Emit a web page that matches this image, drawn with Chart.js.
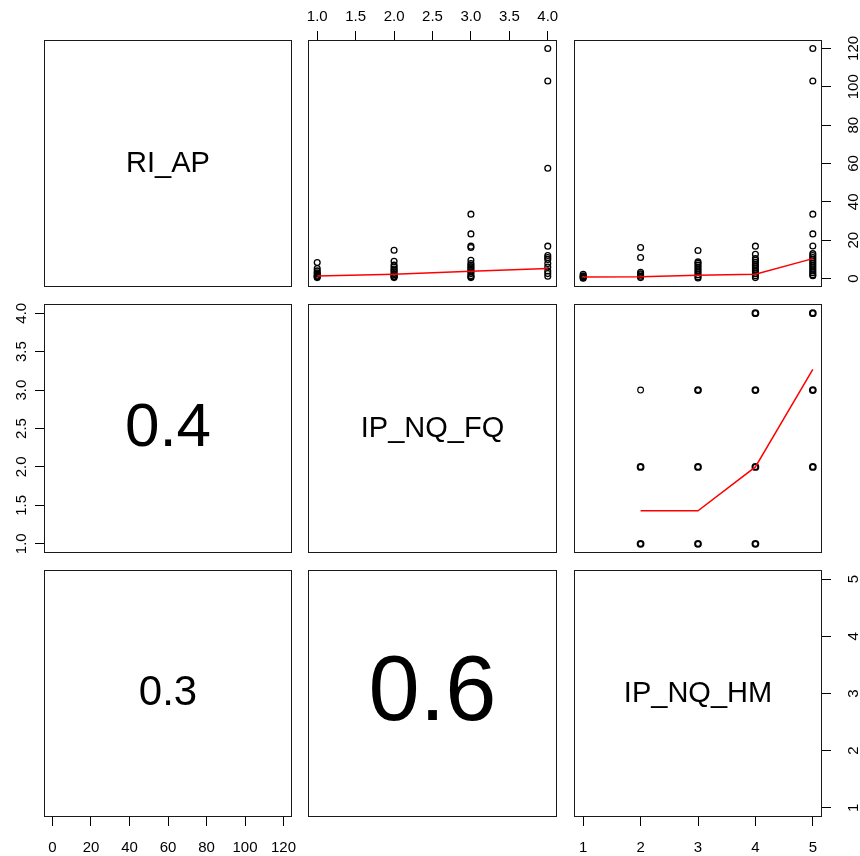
<!DOCTYPE html>
<html><head><meta charset="utf-8">
<script src="https://cdn.jsdelivr.net/npm/chart.js@4"></script>
<style>html,body{margin:0;padding:0;background:#fff}#wrap{position:relative;width:860px;height:856px;background:#fff}canvas{position:absolute;left:0;top:0}</style>
</head><body><div id="wrap"></div>
<script>
// ---------- data ----------
const VAR_NAMES = ['RI_AP', 'IP_NQ_FQ', 'IP_NQ_HM'];
const CORR_LABELS = ['0.4', '0.3', '0.6'];      // panels (FQ,RI), (HM,RI), (HM,FQ)
const CORR_FONT_PX = [62, 42, 92];

const RI_AP_TICKS = [0, 20, 40, 60, 80, 100, 120];
const RI_AP_TICK_LABELS = ['0', '20', '40', '60', '80', '100', '120'];
const FQ_TICKS = [1.0, 1.5, 2.0, 2.5, 3.0, 3.5, 4.0];
const FQ_TICK_LABELS = ['1.0', '1.5', '2.0', '2.5', '3.0', '3.5', '4.0'];
const HM_TICKS = [1, 2, 3, 4, 5];
const HM_TICK_LABELS = ['1', '2', '3', '4', '5'];

// RI_AP values grouped by IP_NQ_FQ level (panel row 1, col 2)
const FQ_LEVELS = [1, 2, 3, 4];
const RI_AT_FQ1 = [8.4, 5.2, 4, 3, 2.5, 1.7, 1.2, 0.9, 0.5];
const RI_AT_FQ2 = [14.8, 9, 7, 6, 5, 4.3, 3.5, 2.6, 2, 1.2, 0.9, 0.5];
const RI_AT_FQ3 = [33.6, 23.3, 16.9, 16.2, 9.5, 7.8, 7, 6, 5.2, 4.3, 3.5, 2.6, 1.5, 0.9, 0.5];
const RI_AT_FQ4 = [120, 103, 57.5, 16.9, 12, 11, 10, 7.8, 6, 4, 2.6, 1.2];
const LOWESS_RI_FQ = [1.4, 2.2, 3.8, 5.2];

// RI_AP values grouped by IP_NQ_HM level (panel row 1, col 3)
const HM_LEVELS = [1, 2, 3, 4, 5];
const RI_AT_HM1 = [2.2, 1.5, 1, 0.5, 0.2];
const RI_AT_HM2 = [16.2, 11, 3.3, 2.5, 2, 1.2, 0.5];
const RI_AT_HM3 = [14.6, 8.7, 8, 7, 6, 5, 4, 3, 2, 1, 0.3];
const RI_AT_HM4 = [16.9, 12.7, 10.5, 9.5, 8.5, 7.5, 6.5, 5.5, 4.5, 3.5, 2.5, 1.5, 0.5];
const RI_AT_HM5 = [120, 103, 33.6, 23.3, 17, 13, 12, 11, 10, 9, 8, 7, 6, 5, 4, 3, 2, 1.5];
const LOWESS_RI_HM = [0.8, 0.9, 1.7, 2.2, 10.4];

// IP_NQ_FQ vs IP_NQ_HM (panel row 2, col 3)
const GRID_HM = [2, 2, 2, 3, 3, 3, 4, 4, 4, 4, 5, 5, 5];
const GRID_FQ = [1, 2, 3, 1, 2, 3, 1, 2, 3, 4, 2, 3, 4];
const GRID_COUNT = [3, 4, 1, 5, 5, 4, 3, 6, 5, 2, 3, 5, 4];
const LOWESS_HM_X = [2, 3, 4, 5];
const LOWESS_FQ_Y = [1.43, 1.43, 2.0, 3.27];

// ---------- layout ----------
const W = 860, H = 856;
const COL_LEFT = [44, 308, 574], COL_RIGHT = [292, 557, 822];
const ROW_TOP = [40, 304, 570], ROW_BOTTOM = [287, 553, 817];
const RANGES = [[-4.4, 124.4], [0.88, 4.12], [0.84, 5.16]];
const TICKS = [RI_AP_TICKS, FQ_TICKS, HM_TICKS];
const TICK_LABELS = [RI_AP_TICK_LABELS, FQ_TICK_LABELS, HM_TICK_LABELS];
const FONT = '"Liberation Sans", Arial, Helvetica, sans-serif';
const wrap = document.getElementById('wrap');

function pts(levels, groups) {
  const out = [];
  levels.forEach((lv, i) => groups[i].forEach(v => out.push({x: lv, y: v})));
  return out;
}
function pairs(xs, ys) { return xs.map((x, i) => ({x: x, y: ys[i]})); }

function pointSet(data, widths) {
  return {type: 'scatter', data: data, showLine: false, pointStyle: 'circle', pointRadius: 2.9,
    pointBorderColor: '#000', pointBackgroundColor: 'rgba(0,0,0,0)',
    pointBorderWidth: widths ? (ctx => widths[ctx.dataIndex]) : 1.3, pointHoverRadius: 2.9};
}
function lineSet(data) {
  return {type: 'line', data: data, showLine: true, borderColor: '#ff0000', borderWidth: 1.5,
    pointRadius: 0, fill: false, tension: 0};
}

function makePanel(r, c, datasets, text, textPx) {
  const canvas = document.createElement('canvas');
  canvas.width = W; canvas.height = H;
  wrap.appendChild(canvas);
  const L = COL_LEFT[c], R = COL_RIGHT[c], T = ROW_TOP[r], B = ROW_BOTTOM[r];
  let xPos = null, yPos = null;
  if (r === 0 && c === 1) xPos = 'top';
  if (r === 2 && (c === 0 || c === 2)) xPos = 'bottom';
  if (c === 2 && (r === 0 || r === 2)) yPos = 'right';
  if (c === 0 && r === 1) yPos = 'left';
  const pad = {left: L, right: W - R, top: T, bottom: H - B};
  let xSize = 0, ySize = 0;
  if (xPos === 'top') { xSize = T; pad.top = 0; }
  if (xPos === 'bottom') { xSize = H - B; pad.bottom = 0; }
  if (yPos === 'left') { ySize = L; pad.left = 0; }
  if (yPos === 'right') { ySize = W - R; pad.right = 0; }
  const xv = c, yv = r;
  const gridOpts = {drawOnChartArea: false, drawTicks: true, tickLength: 9, tickColor: '#000', tickWidth: 1};
  const axisLabels = {
    id: 'axisLabels' + r + c,
    afterDraw(chart) {
      const ctx = chart.ctx, ca = chart.chartArea;
      ctx.save();
      ctx.strokeStyle = '#1a1a1a'; ctx.lineWidth = 1;
      ctx.strokeRect(ca.left + 0.5, ca.top + 0.5, ca.right - ca.left - 1, ca.bottom - ca.top - 1);
      ctx.fillStyle = '#000';
      ctx.font = '15px ' + FONT;
      ctx.textAlign = 'center'; ctx.textBaseline = 'middle';
      if (xPos) {
        const s = chart.scales.x;
        const y = xPos === 'top' ? ca.top - 23.5 : ca.bottom + 31;
        s.ticks.forEach((t, i) => ctx.fillText(TICK_LABELS[xv][i], s.getPixelForValue(t.value), y));
      }
      if (yPos) {
        const s = chart.scales.y;
        const x = yPos === 'left' ? ca.left - 22.5 : ca.right + 32;
        s.ticks.forEach((t, i) => {
          ctx.save();
          ctx.translate(x, s.getPixelForValue(t.value));
          ctx.rotate(-Math.PI / 2);
          ctx.fillText(TICK_LABELS[yv][i], 0, 0);
          ctx.restore();
        });
      }
      if (text) {
        ctx.font = textPx + 'px ' + FONT;
        ctx.fillText(text, (ca.left + ca.right) / 2, (ca.top + ca.bottom) / 2 + textPx * 0.01);
      }
      ctx.restore();
    }
  };
  new Chart(canvas, {
    type: 'scatter',
    data: {datasets: datasets},
    options: {
      responsive: false, animation: false, devicePixelRatio: 1,
      layout: {padding: pad},
      plugins: {legend: {display: false}, tooltip: {enabled: false}, title: {display: false}},
      events: [],
      scales: {
        x: {type: 'linear', position: xPos || 'bottom', display: !!xPos,
          min: RANGES[xv][0], max: RANGES[xv][1],
          afterBuildTicks: s => { s.ticks = TICKS[xv].map(v => ({value: v})); },
          afterFit: s => { s.height = xSize; },
          grid: gridOpts, border: {display: false}, ticks: {display: false, autoSkip: false}},
        y: {type: 'linear', position: yPos || 'left', display: !!yPos,
          min: RANGES[yv][0], max: RANGES[yv][1],
          afterBuildTicks: s => { s.ticks = TICKS[yv].map(v => ({value: v})); },
          afterFit: s => { s.width = ySize; },
          grid: gridOpts, border: {display: false}, ticks: {display: false, autoSkip: false}}
      }
    },
    plugins: [axisLabels]
  });
}

// diagonal
makePanel(0, 0, [], VAR_NAMES[0], 29);
makePanel(1, 1, [], VAR_NAMES[1], 29);
makePanel(2, 2, [], VAR_NAMES[2], 29);
// lower (correlations)
makePanel(1, 0, [], CORR_LABELS[0], CORR_FONT_PX[0]);
makePanel(2, 0, [], CORR_LABELS[1], CORR_FONT_PX[1]);
makePanel(2, 1, [], CORR_LABELS[2], CORR_FONT_PX[2]);
// upper (scatter + lowess)
makePanel(0, 1, [
  lineSet(pairs(FQ_LEVELS, LOWESS_RI_FQ)),
  pointSet(pts(FQ_LEVELS, [RI_AT_FQ1, RI_AT_FQ2, RI_AT_FQ3, RI_AT_FQ4]))
]);
makePanel(0, 2, [
  lineSet(pairs(HM_LEVELS, LOWESS_RI_HM)),
  pointSet(pts(HM_LEVELS, [RI_AT_HM1, RI_AT_HM2, RI_AT_HM3, RI_AT_HM4, RI_AT_HM5]))
]);
makePanel(1, 2, [
  lineSet(pairs(LOWESS_HM_X, LOWESS_FQ_Y)),
  pointSet(pairs(GRID_HM, GRID_FQ), GRID_COUNT.map(n => n > 1 ? 2 : 1.1))
]);
</script></body></html>
